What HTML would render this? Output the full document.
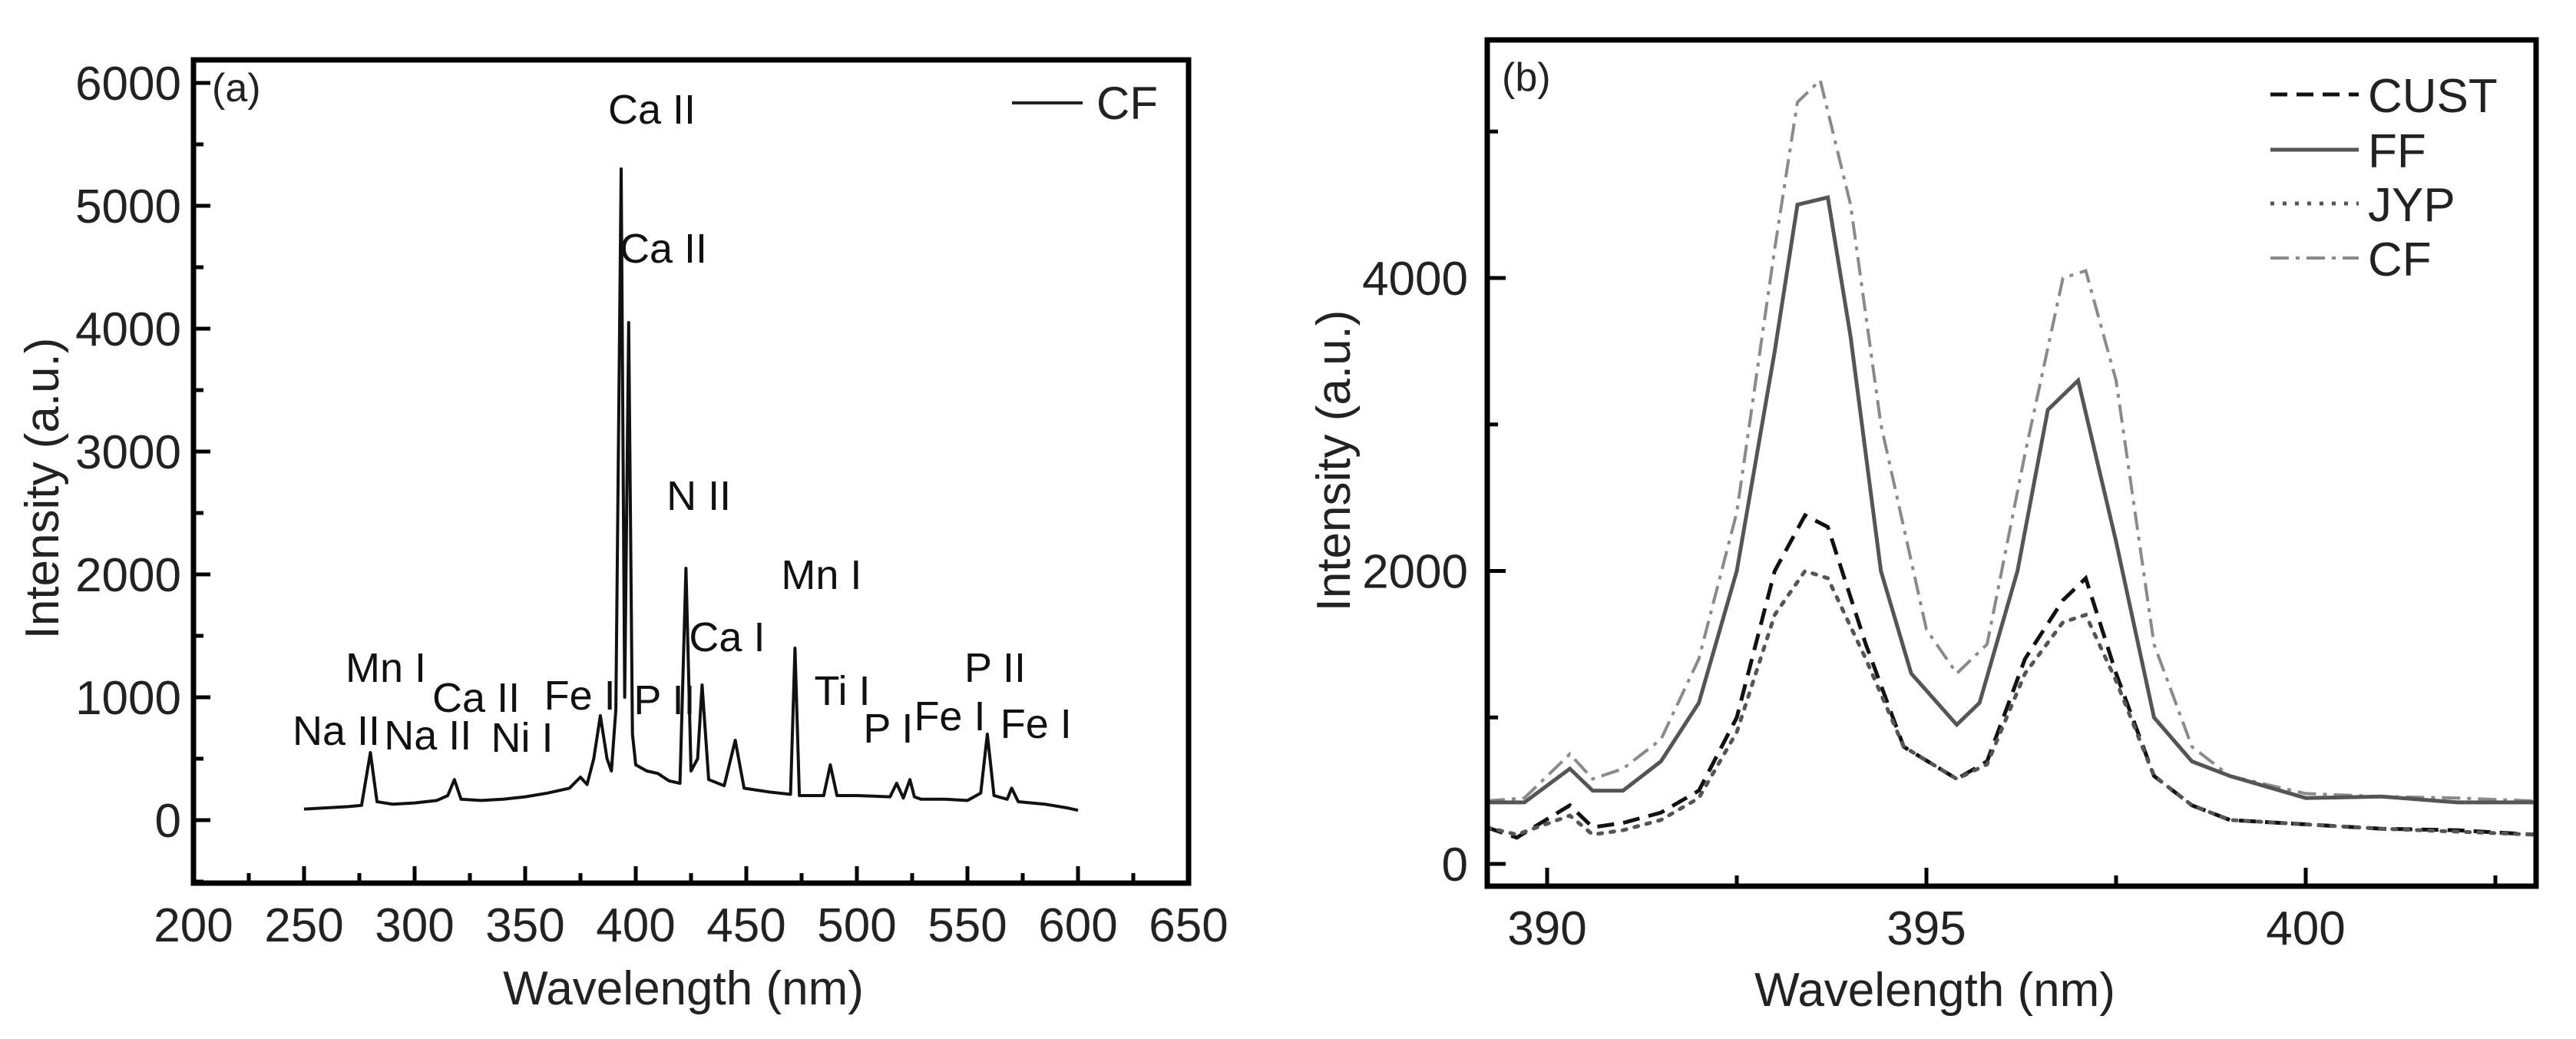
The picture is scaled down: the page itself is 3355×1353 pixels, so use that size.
<!DOCTYPE html>
<html><head><meta charset="utf-8">
<style>
html,body{margin:0;padding:0;background:#fff;}
svg{display:block;font-family:"Liberation Sans",Arial,sans-serif;}
</style></head>
<body>
<svg id="fig" width="3355" height="1353" viewBox="0 0 3355 1353" xmlns="http://www.w3.org/2000/svg">
<rect width="3355" height="1353" fill="#fff"/>
<g id="chartA"></g>
<g id="chartB"></g>
</svg>
<script>
// ---------- Chart (a) data ----------
const aXTicks = [200,250,300,350,400,450,500,550,600,650];
const aYTicks = [0,1000,2000,3000,4000,5000,6000];
const aWavelengths = [250,260,270,276,280,283,290,300,310,315,318,321,330,340,350,360,370,375,378,381,384,387,389,391,393.4,395,396.8,398.5,400,405,410,415,420,422.7,425,428,430,433,440,445,449,460,470,472,474,485,488,491,500,515,518,521,524,526,529,540,550,556,559,562,568,570,573,585,595,600];
const aIntensity = [90,100,110,120,550,150,130,140,160,200,330,170,160,170,190,220,260,350,290,500,850,500,400,900,5300,1000,4050,700,450,400,380,320,300,2050,400,500,1100,330,280,650,260,230,210,1400,200,200,450,200,200,190,300,180,330,190,170,170,160,220,700,200,170,260,150,130,100,80];
const aLabels = ["Ca II","Ca II","N II","Mn I","Ca I","Mn I","Ca II","Fe I","P II","Ti I","P II","Na II","Na II","Ni I","P I","Fe I","Fe I"];
const aLabelWl = [407.3,412.5,428.5,484,441.3,287,327.8,374.7,413,493.4,562.5,264.6,306,348.6,514.2,542,581];
const aLabelVal = [5670,4537,2525,1881,1375,1125,881,900,862,937,1125,612,575,556,631,731,669];

// ---------- Chart (b) data ----------
const bXTicks = [390,395,400];
const bXMinor = [392.5,397.5,402.5];
const bYTicks = [0,2000,4000];
const bYMinor = [1000,3000,5000];
const bSeriesNames = ["CUST","FF","JYP","CF"];
const ffX = [389.2,389.7,390.3,390.6,391,391.5,392,392.5,393,393.3,393.7,394,394.4,394.8,395.4,395.7,396.2,396.6,397,397.5,398,398.5,399,400,401,402,403];
const ffY = [420,420,650,500,500,700,1100,2000,3500,4500,4550,3600,2000,1300,950,1100,2000,3100,3300,2200,1000,700,600,450,460,420,420];
const cfX = [389.2,389.7,390.3,390.6,391,391.5,392,392.5,393,393.3,393.6,394,394.4,395,395.4,395.8,396.3,396.8,397.1,397.5,398,398.5,399,400,401,402,403];
const cfY = [430,450,750,580,650,850,1400,2400,4200,5200,5350,4500,3000,1600,1300,1500,2800,4000,4050,3300,1500,800,600,480,460,450,430];
const custX = [389.2,389.6,390.3,390.6,391,391.5,392,392.5,393,393.4,393.7,394.2,394.7,395.4,395.8,396.3,396.8,397.1,397.5,398,398.5,399,400,401,402,403];
const custY = [250,180,400,250,280,350,500,1000,2000,2380,2300,1500,800,580,700,1400,1800,1950,1300,600,400,300,270,240,230,200];
const jypX = [389.2,389.6,390.3,390.6,391,391.5,392,392.5,393,393.4,393.7,394.2,394.7,395.4,395.8,396.3,396.8,397.1,397.5,398,398.5,399,400,401,402,403];
const jypY = [250,200,330,200,230,300,450,900,1700,2000,1950,1400,800,580,680,1300,1650,1700,1250,600,400,300,270,240,220,200];

const NS="http://www.w3.org/2000/svg";
function mk(parent,tag,attrs,text){const e=document.createElementNS(NS,tag);for(const k in attrs)e.setAttribute(k,attrs[k]);if(text!==undefined)e.textContent=text;parent.appendChild(e);return e;}

// ---------- Draw chart (a) ----------
(function(){
  const g=document.getElementById('chartA');
  const L=252,R=1548,T=78,B=1150;
  const x=v=>L+(v-200)*(R-L)/450;
  const y=v=>1068-v*0.16;
  let d='';
  for(let i=0;i<aWavelengths.length;i++){d+=(i?'L':'M')+x(aWavelengths[i]).toFixed(1)+' '+y(aIntensity[i]).toFixed(1);}
  const line=mk(g,'path',{d:d,fill:'none',stroke:'#111','stroke-width':4,'stroke-linejoin':'round'});
  
  
  const fr=mk(g,'rect',{x:L,y:T,width:R-L,height:B-T,fill:'none',stroke:'#000','stroke-width':7});
  
  
  aXTicks.forEach((v,i)=>{
    mk(g,'line',{x1:x(v),x2:x(v),y1:B,y2:B-22,stroke:'#000','stroke-width':5});
    if(i<aXTicks.length-1) mk(g,'line',{x1:x(v+25),x2:x(v+25),y1:B,y2:B-13,stroke:'#000','stroke-width':5});
    const t=mk(g,'text',{x:x(v),y:1226,'font-size':62,'text-anchor':'middle',fill:'#222'},String(v));
    
    
  });
  aYTicks.forEach((v,i)=>{
    mk(g,'line',{x1:L,x2:L+22,y1:y(v),y2:y(v),stroke:'#000','stroke-width':5});
    mk(g,'line',{x1:L,x2:L+13,y1:y(v-500),y2:y(v-500),stroke:'#000','stroke-width':5});
    const t=mk(g,'text',{x:236,y:y(v)+22,'font-size':62,'text-anchor':'end',fill:'#222'},String(v));
    
    
  });
  aLabels.forEach((s,i)=>{
    const t=mk(g,'text',{x:x(aLabelWl[i]),y:y(aLabelVal[i]),'font-size':54,'text-anchor':'middle',fill:'#111'},s);
    
    
  });
  const pa=mk(g,'text',{x:276,y:132,'font-size':52,fill:'#222'},'(a)');
  
  
  mk(g,'line',{x1:1318,x2:1410,y1:134,y2:134,stroke:'#222','stroke-width':4});
  const lt=mk(g,'text',{x:1428,y:155,'font-size':60,fill:'#222'},'CF');
  
  
  const xt=mk(g,'text',{x:890,y:1308,'font-size':62,'text-anchor':'middle',fill:'#222'},'Wavelength (nm)');
  
  
  const yt=mk(g,'text',{x:0,y:0,'font-size':62,'text-anchor':'middle',fill:'#222',transform:'translate(76,636) rotate(-90)'},'Intensity (a.u.)');
  
  
})();

// ---------- Draw chart (b) ----------
(function(){
  const g=document.getElementById('chartB');
  const L=1937,R=3303,T=52,B=1154;
  const x=v=>2015+(v-390)*98.8;
  const y=v=>1125-v*0.19075;
  const styles={
    CUST:{stroke:'#111',dash:'22 12',w:5},
    FF:{stroke:'#555',dash:'',w:5},
    JYP:{stroke:'#555',dash:'5 11',w:5},
    CF:{stroke:'#8a8a8a',dash:'24 9 5 9',w:4}
  };
  const data={CUST:[custX,custY],FF:[ffX,ffY],JYP:[jypX,jypY],CF:[cfX,cfY]};
  ['CF','FF','CUST','JYP'].forEach(n=>{
    const [xs,ys]=data[n];let d='';
    for(let i=0;i<xs.length;i++){d+=(i?'L':'M')+x(xs[i]).toFixed(1)+' '+y(ys[i]).toFixed(1);}
    const st=styles[n];
    const p=mk(g,'path',{d:d,fill:'none',stroke:st.stroke,'stroke-width':st.w,'stroke-dasharray':st.dash,'stroke-linecap':n==='JYP'?'round':'butt'});
    
    
  });
  const fr=mk(g,'rect',{x:L,y:T,width:R-L,height:B-T,fill:'none',stroke:'#000','stroke-width':7});
  
  
  bXTicks.forEach(v=>{
    mk(g,'line',{x1:x(v),x2:x(v),y1:B,y2:B-24,stroke:'#000','stroke-width':5});
    const t=mk(g,'text',{x:x(v),y:1230,'font-size':62,'text-anchor':'middle',fill:'#222'},String(v));
    
    
  });
  bXMinor.forEach(v=>{mk(g,'line',{x1:x(v),x2:x(v),y1:B,y2:B-14,stroke:'#000','stroke-width':5});});
  bYTicks.forEach(v=>{
    mk(g,'line',{x1:L,x2:L+24,y1:y(v),y2:y(v),stroke:'#000','stroke-width':5});
    const t=mk(g,'text',{x:1912,y:y(v)+22,'font-size':62,'text-anchor':'end',fill:'#222'},String(v));
    
    
  });
  bYMinor.forEach(v=>{mk(g,'line',{x1:L,x2:L+14,y1:y(v),y2:y(v),stroke:'#000','stroke-width':5});});
  const pb=mk(g,'text',{x:1956,y:118,'font-size':52,fill:'#222'},'(b)');
  
  
  const ly=[123,195,265,336];
  bSeriesNames.forEach((n,i)=>{
    const st=styles[n];
    mk(g,'line',{x1:2957,x2:3072,y1:ly[i],y2:ly[i],stroke:st.stroke,'stroke-width':st.w,'stroke-dasharray':st.dash});
    const t=mk(g,'text',{x:3084,y:ly[i]+23,'font-size':62,fill:'#222'},n);
    
    
  });
  const xt=mk(g,'text',{x:2520,y:1310,'font-size':62,'text-anchor':'middle',fill:'#222'},'Wavelength (nm)');
  
  
  const yt=mk(g,'text',{x:0,y:0,'font-size':62,'text-anchor':'middle',fill:'#222',transform:'translate(1758,600) rotate(-90)'},'Intensity (a.u.)');
  
  
})();
</script>
</body></html>
